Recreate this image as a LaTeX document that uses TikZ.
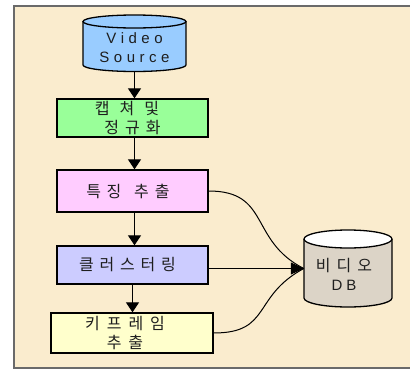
\documentclass[tikz,border=0pt]{standalone}
\usepackage{fontspec}
\setmainfont{Liberation Sans}
\newfontfamily\kr{Noto Sans CJK KR}
\usetikzlibrary{arrows.meta,calc}
\definecolor{bgbeige}{HTML}{FAECCE}
\definecolor{framegray}{HTML}{6A6A6A}
\definecolor{vsblue}{HTML}{99CCFF}
\definecolor{capgreen}{HTML}{99FF99}
\definecolor{featpink}{HTML}{FFCCFF}
\definecolor{cluspurple}{HTML}{CCCCFF}
\definecolor{keyyellow}{HTML}{FFFFCC}
\definecolor{dbgray}{HTML}{DCD4C7}
\definecolor{txt}{HTML}{1E1E1E}
\begin{document}
\begin{tikzpicture}[x=1pt,y=-1pt,
  box/.style={draw=black,line width=1.3pt,inner sep=0pt,align=center,text=txt,
    font=\kr\fontsize{16pt}{18.5pt}\selectfont},
  latin/.style={inner sep=0pt,align=center,text=txt,font=\fontsize{15pt}{19pt}\selectfont},
  cylline/.style={draw=black,line width=1.3pt},
  conn/.style={line width=1pt,-{Triangle[width=13pt,length=10pt]}},
  dbconn/.style={line width=1pt,-{Triangle[width=12pt,length=13pt]}},
  link/.style={line width=1pt}]
\useasboundingbox (0,0) rectangle (410,370);
% background and frame
\fill[white] (0,0) rectangle (410,370);
\fill[bgbeige] (14,6) rectangle (412,368);
\draw[framegray,line width=2pt] (414,6) -- (14,6) -- (14,368) -- (414,368);

% Video Source cylinder
\fill[vsblue] (83,21.5) rectangle (186,65);
\fill[vsblue] (134.5,65) ellipse[x radius=51.5,y radius=6.5];
\draw[cylline] (83,21.5) -- (83,65) arc[start angle=180,end angle=0,x radius=51.5,y radius=6.5] -- (186,21.5);
\draw[cylline,fill=vsblue] (134.5,21.5) ellipse[x radius=51.5,y radius=6.5];
\node[latin,minimum width=103pt,minimum height=46pt] (vs) at (134.5,48)
  {V\kern4.5pt i\kern4.5pt d\kern4.5pt e\kern4.5pt o\\S\kern4.5pt o\kern4.5pt u\kern4.5pt r\kern4.5pt c\kern4.5pt e};

% process boxes
\node[box,fill=capgreen,minimum width=151pt,minimum height=38pt] (cap) at (132.5,118)
  {캡\kern10pt 쳐\kern10pt 및\hspace*{11pt}\\정\kern6pt 규\kern6pt 화};
\node[box,fill=featpink,minimum width=151pt,minimum height=42pt] (feat) at (132.5,191)
  {특\kern5.5pt 징\kern13pt 추\kern6pt 출\hspace*{9pt}};
\node[box,fill=cluspurple,minimum width=151pt,minimum height=38pt] (clus) at (132.5,265)
  {클\kern5.75pt 러\kern5.75pt 스\kern5.75pt 터\kern5.75pt 링\hspace*{10pt}};
\node[box,fill=keyyellow,minimum width=162pt,minimum height=40pt] (key) at (132,333)
  {키\kern7pt 프\kern7pt 레\kern7pt 임\hspace*{14pt}\\추\kern7pt 출\hspace*{14pt}};

% Video DB cylinder
\fill[dbgray] (304,239) rectangle (392,298);
\fill[dbgray] (348,298) ellipse[x radius=44,y radius=9];
\draw[cylline] (304,239) -- (304,298) arc[start angle=180,end angle=0,x radius=44,y radius=9] -- (392,239);
\draw[cylline,fill=white] (348,239) ellipse[x radius=44,y radius=9];
\node[inner sep=0pt,minimum width=88pt,minimum height=77pt] (db) at (348,268.5) {};
\node[inner sep=0pt,align=center,text=txt,font=\fontsize{15pt}{19.5pt}\selectfont] (dbtext) at (344,274.5)
  {{\kr\fontsize{16pt}{19.5pt}\selectfont 비\kern6pt 디\kern6pt 오}\\D\kern4pt B};

% connectors
\draw[conn] (vs.south) -- (vs.south |- cap.north);
\draw[conn] (cap.south -| vs.south) -- (feat.north -| vs.south);
\draw[conn] (feat.south -| vs.south) -- (clus.north -| vs.south);
\draw[conn] (clus.south) -- (clus.south |- key.north);
\draw[link] (feat.east) .. controls +(62,0) and +(-55,-28) .. (db.west);
\draw[link] (key.east) .. controls +(58,0) and +(-52,28) .. (db.west);
\draw[dbconn] (db.west -| clus.east) -- (db.west);
\end{tikzpicture}
\end{document}
